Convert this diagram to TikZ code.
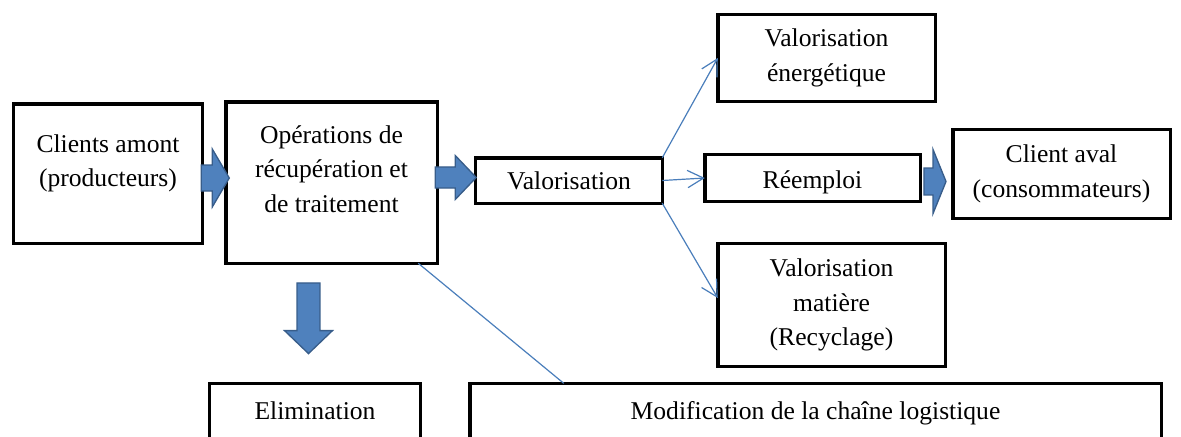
\documentclass[tikz,border=0pt]{standalone}
\usepackage{fontspec}
\setmainfont{Liberation Serif}
\usepackage{tikz}
\usetikzlibrary{arrows.meta,positioning,calc}
\usepackage{xcolor}
\definecolor{cArrow}{RGB}{79,129,189}
\definecolor{cArrowDark}{RGB}{56,93,138}
\definecolor{cLine}{RGB}{74,126,187}
\newcommand{\fatarrow}[5]{% tail, tip, shaft half, head half, head length
  \coordinate (fa-b) at ($(#2)!#5!(#1)$);
  \draw[blockarr] ($(#1)!#3!90:(#2)$) -- ($(fa-b)!#3!-90:(#1)$)
    -- ($(fa-b)!#4!-90:(#1)$) -- (#2) -- ($(fa-b)!#4!90:(#1)$)
    -- ($(fa-b)!#3!90:(#1)$) -- ($(#1)!#3!-90:(#2)$) -- cycle;
}
\tikzset{
  box/.style={rectangle,draw=black,line width=2.6pt,outer sep=0pt,
              inner sep=0pt,align=center,
              font=\fontsize{19.2pt}{26pt}\selectfont},
  txt/.style={align=center,font=\fontsize{19.2pt}{26pt}\selectfont},
  cutbox/.style={box,minimum height=46pt,text height=13.5pt,text depth=6pt},
  blockarr/.style={fill=cArrow,draw=cArrowDark,line width=1pt},
  thinarr/.style={-{Straight Barb[length=12pt,width=13pt]},line width=0.9pt,color=cLine},
  thinline/.style={line width=0.9pt,color=cLine}
}

\begin{document}
\begin{tikzpicture}[x=0.75pt,y=-0.75pt]
  \useasboundingbox (0,0) rectangle (1181,436);

  % Upstream side
  \node[box,minimum width=141.4pt,minimum height=104.6pt,
        label={[txt,yshift=7.5pt]center:Clients amont\\(producteurs)}]
        (clients) at (108,173.5) {};
  \node[box,minimum width=158.6pt,minimum height=121.1pt,
        label={[txt,yshift=10pt]center:Opérations de\\récupération et\\de traitement}]
        (ops) at (331.5,182.5) {};

  % Valorisation and its branches
  \node[box,minimum width=139.9pt,minimum height=34.1pt] (valo) at (569,180.5)
      {Valorisation};
  \node[box,minimum width=163.1pt,minimum height=64.9pt] (energ) at (826.5,58)
      {Valorisation\\énergétique};
  \node[box,minimum width=161.6pt,minimum height=34.9pt,
        text height=15pt,text depth=0pt] (reemp) at (812.5,178)
      {Réemploi};
  \node[box,minimum width=170.6pt,minimum height=91.9pt] (matiere) at (831.5,305)
      {Valorisation\\matière\\(Recyclage)};

  % Downstream
  \node[box,minimum width=163.1pt,minimum height=66.4pt] (aval) at (1061.5,174)
      {Client aval\\(consommateurs)};

  % Bottom row (cut by the page)
  \node[cutbox,minimum width=157.9pt] (elim) at (315,414)
      {Elimination};
  \node[cutbox,minimum width=518.6pt] (modif) at (815.5,414)
      {Modification de la chaîne logistique};

  % Block arrows
  \coordinate (a1s) at ($(clients.east)+(-1,4.5)$);
  \coordinate (a1e) at ($(ops.west)+(3.5,-4.5)$);
  \coordinate (a2s) at ($(ops.east)+(-2,-5)$);
  \coordinate (a2e) at ($(valo.west)+(0.5,-3)$);
  \coordinate (a3s) at ($(reemp.east)+(3.75,3.5)$);
  \coordinate (a3e) at ($(aval.west)+(-6.75,7.5)$);
  \coordinate (a4s) at ($(ops.south)+(-23,19.75)$);
  \coordinate (a4e) at ($(elim.north)+(-6.5,-29.75)$);
  \fatarrow{a1s}{a1e}{9.75pt}{21.75pt}{12.75pt}
  \fatarrow{a2s}{a2e}{7.9pt}{16.5pt}{15.75pt}
  \fatarrow{a3s}{a3e}{10.1pt}{24pt}{9.75pt}
  \fatarrow{a4s}{a4e}{8.6pt}{18pt}{17.25pt}

  % Thin connectors
  \draw[thinarr] (valo.north east) -- (energ.west);
  \draw[thinarr] (valo.east) -- (reemp.west);
  \draw[thinarr] (valo.south east) -- ($(matiere.west)+(0,-7)$);
  \draw[thinline] ($(ops.south east)+(-19,0)$) -- ($(modif.north west)+(94,0)$);

\end{tikzpicture}
\end{document}
